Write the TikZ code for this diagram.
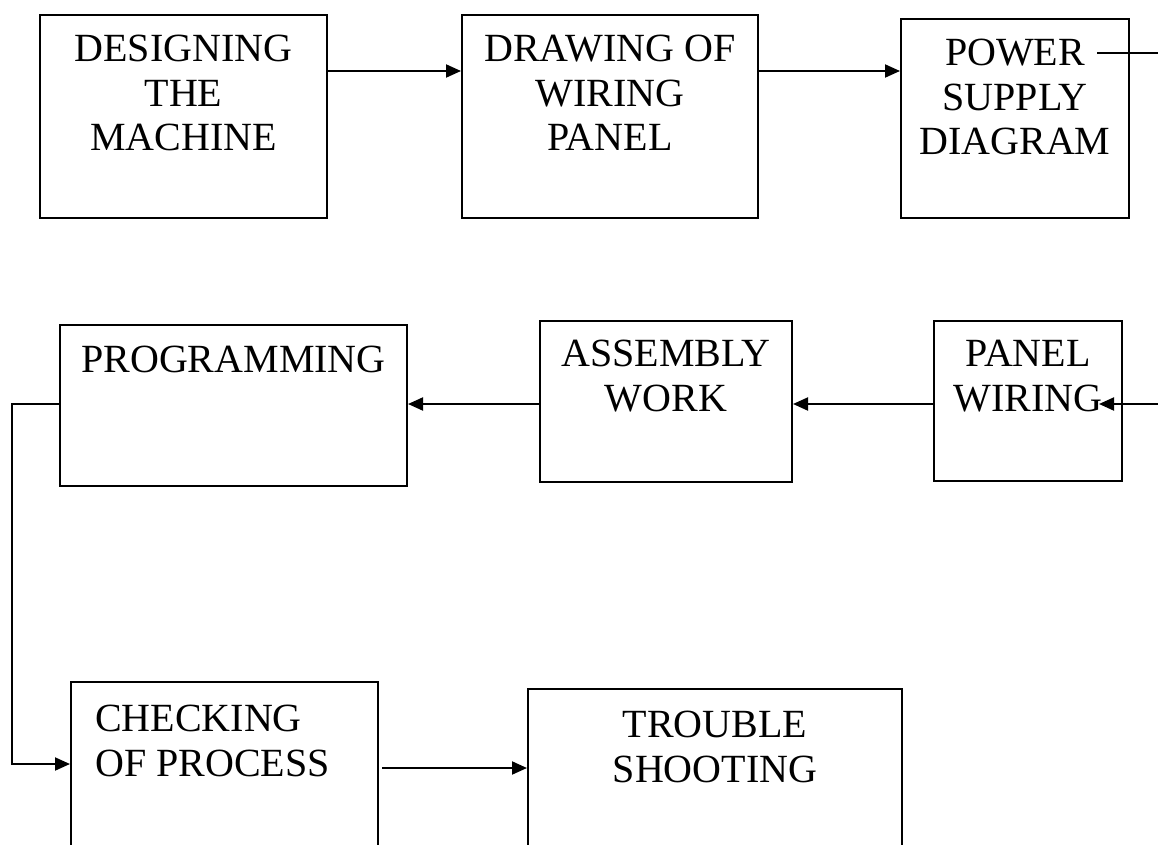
\documentclass[tikz,border=0pt]{standalone}
\usepackage{fontspec}
\setmainfont{Liberation Serif}
\usetikzlibrary{arrows.meta}

\begin{document}
\begin{tikzpicture}[x=1pt,y=1pt,yscale=-1,xscale=1,
  blk/.style={draw, line width=2pt, inner sep=0pt},
  lbl/.style={inner sep=0pt, align=center, font=\fontsize{40}{44.5}\selectfont},
  flow/.style={line width=2pt, -{Triangle[length=15pt,width=13pt]}}]
\clip (0,0) rectangle (1158,845);

%Blocks, top row
\node[blk, minimum width=287pt, minimum height=203pt] (design) at (183.5,116.5) {};
\node[blk, minimum width=296pt, minimum height=203pt] (drawing) at (610,116.5) {};
\node[blk, minimum width=228pt, minimum height=199pt] (power) at (1015,118.5) {};
%Blocks, middle row
\node[blk, minimum width=188pt, minimum height=160pt] (panel) at (1028,401) {};
\node[blk, minimum width=252pt, minimum height=161pt] (assembly) at (666,401.5) {};
\node[blk, minimum width=347pt, minimum height=161pt] (program) at (233.5,405.5) {};
%Blocks, bottom row
\node[blk, minimum width=307pt, minimum height=198pt] (checking) at (224.5,781) {};
\node[blk, minimum width=374pt, minimum height=191pt] (trouble) at (715,784.5) {};

% Text Node
\node[lbl, anchor=north] (designtxt) at (183.5,35) {DESIGNING\\THE\\MACHINE};
% Text Node
\node[lbl, anchor=north] (drawingtxt) at (610,35) {DRAWING OF\\WIRING\\PANEL};
% Text Node
\node[lbl, anchor=north] (powertxt) at (1015,39) {POWER\\SUPPLY\\DIAGRAM};
% Text Node
\node[lbl, anchor=north] (paneltxt) at (1028,340) {PANEL\\WIRING};
% Text Node
\node[lbl, anchor=north] (assemblytxt) at (666,340) {ASSEMBLY\\WORK};
% Text Node
\node[lbl, anchor=north] (programtxt) at (233.5,346) {PROGRAMMING};
% Text Node
\node[lbl, anchor=north west, align=left] (checkingtxt) at (95,705) {CHECKING\\OF PROCESS};
% Text Node
\node[lbl, anchor=north] (troubletxt) at (715,711) {TROUBLE\\SHOOTING};

%Levels of the connectors
\coordinate (row1) at (0,71);
\coordinate (row2) at (0,404);
\coordinate (row3) at (0,768);
\coordinate (chkin) at (0,764);
\coordinate (loopx) at (12,0);
\coordinate (pwout) at (1097,53);
\coordinate (pwbend) at (1175,53);
\coordinate (wirein) at (1099,404);

%Connectors
\draw[flow] (design.east |- row1) -- (drawing.west |- row1);
\draw[flow] (drawing.east |- row1) -- (power.west |- row1);
\draw[flow] (pwout) -- (pwbend) |- (wirein);
\draw[flow] (panel.west |- row2) -- (assembly.east |- row2);
\draw[flow] (assembly.west |- row2) -- (program.east |- row2);
\draw[flow] (program.west |- row2) -- (loopx |- row2) -- (loopx |- chkin) -- (checking.west |- chkin);
\draw[flow, shorten <=3pt] (checking.east |- row3) -- (trouble.west |- row3);

\end{tikzpicture}
\end{document}
